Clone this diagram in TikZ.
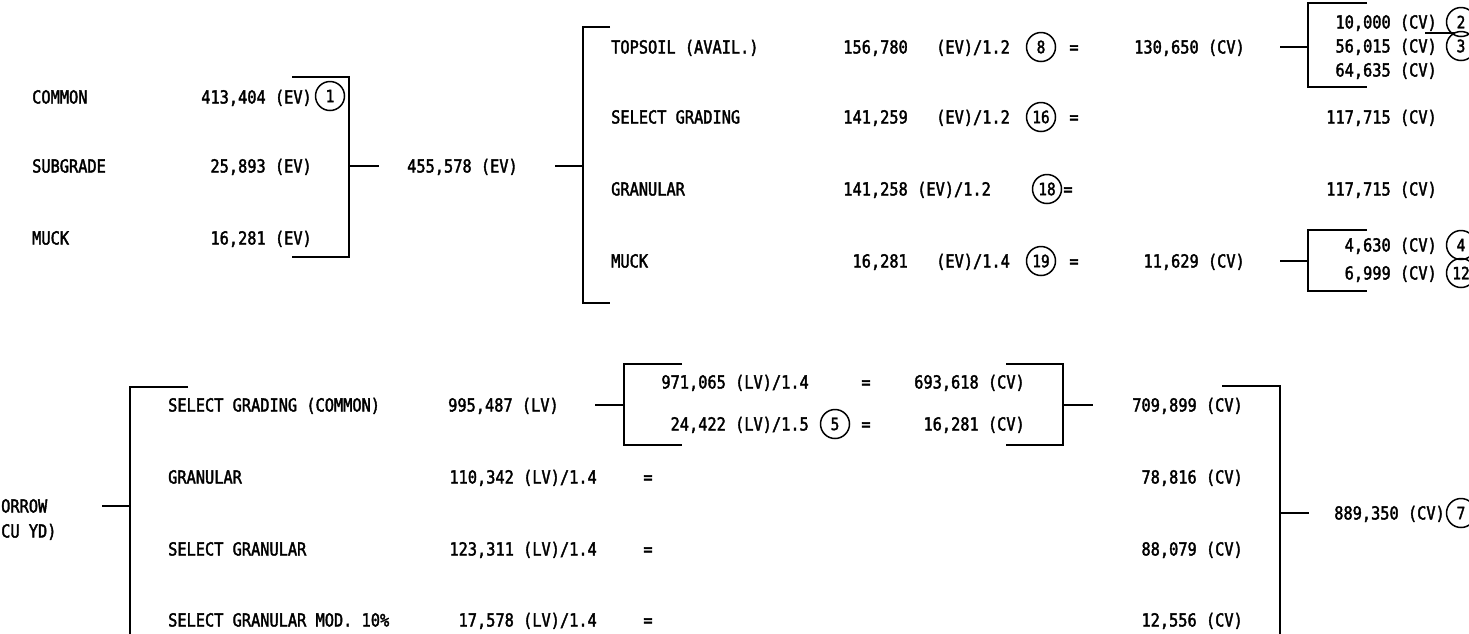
\documentclass[tikz,border=0pt]{standalone}
\usepackage{fontspec}
\setmainfont[FakeStretch=0.85,FakeBold=2]{DejaVu Sans Mono}
\begin{document}
\begin{tikzpicture}[x=1pt,y=-1pt,
  t/.style={inner sep=0pt, anchor=west, text height=13pt, text depth=0pt, font=\fontsize{18}{21}\selectfont},
  tr/.style={t, anchor=east},
  tc/.style={t, anchor=center},
  cn/.style={circle, draw, line width=1.5pt, minimum size=29pt, inner sep=0pt, font=\fontsize{17}{19}\selectfont},
  ln/.style={line width=1.8pt}]
\fill[white] (0,0) rectangle (1469,633);
\useasboundingbox (0,0) rectangle (1469,633);
\clip (0,0) rectangle (1469,633);

% ---------------- top-left group
\node[t] (common) at (32,97) {COMMON};
\node[t] (subgr) at (32,166) {SUBGRADE};
\node[t] (muckA) at (32,238) {MUCK};
\node[tr] (vA1) at (312,97) {413,404 (EV)};
\node[cn] (c1) at (330,96) {1};
\node[tr] (vA2) at (312,166) {25,893 (EV)};
\node[tr] (vA3) at (312,238) {16,281 (EV)};
\coordinate (bAt) at (292,77);
\coordinate (bAtr) at (349,77);
\coordinate (bAbr) at (349,257);
\coordinate (bAb) at (292,257);
\coordinate (bAm) at (349,166);
\coordinate (bAe) at (379,166);
\draw[ln] (bAt) -- (bAtr) -- (bAbr) -- (bAb);
\draw[ln] (bAm) -- (bAe);
\node[t] (sumA) at (407,166) {455,578 (EV)};

% ---------------- top-middle group
\coordinate (bBs) at (555,166);
\coordinate (bBm) at (583,166);
\coordinate (bBt) at (610,27);
\coordinate (bBtl) at (583,27);
\coordinate (bBbl) at (583,303);
\coordinate (bBb) at (610,303);
\draw[ln] (bBs) -- (bBm);
\draw[ln] (bBt) -- (bBtl) -- (bBbl) -- (bBb);

\node[t] (topsoil) at (611,47) {TOPSOIL (AVAIL.)};
\node[t] (selgr) at (611,117) {SELECT GRADING};
\node[t] (gran) at (611,189) {GRANULAR};
\node[t] (muckB) at (611,261) {MUCK};

\node[tr] (nB1) at (908,47) {156,780};
\node[tr] (nB2) at (908,117) {141,259};
\node[tr] (nB3) at (908,189) {141,258};
\node[tr] (nB4) at (908,261) {16,281};

\node[t] (fB1) at (936,47) {(EV)/1.2};
\node[t] (fB2) at (936,117) {(EV)/1.2};
\node[t] (fB3) at (917,189) {(EV)/1.2};
\node[t] (fB4) at (936,261) {(EV)/1.4};

\node[cn] (c8) at (1041,47) {8};
\node[cn] (c16) at (1041,117) {16};
\node[cn] (c18) at (1047,189) {18};
\node[cn] (c19) at (1041,261) {19};

\node[tc] (eB1) at (1074,47) {=};
\node[tc] (eB2) at (1074,117) {=};
\node[tc] (eB3) at (1068,189) {=};
\node[tc] (eB4) at (1074,261) {=};

\node[tr] (rB1) at (1245,47) {130,650 (CV)};
\node[tr] (rB4) at (1245,261) {11,629 (CV)};

% ---------------- top-right group
\coordinate (bCs) at (1280,47);
\coordinate (bCm) at (1308,47);
\coordinate (bCt) at (1367,3);
\coordinate (bCtl) at (1308,3);
\coordinate (bCbl) at (1308,87);
\coordinate (bCb) at (1367,87);
\draw[ln] (bCs) -- (bCm);
\draw[ln] (bCt) -- (bCtl) -- (bCbl) -- (bCb);
\node[tr] (rC1) at (1437,22) {10,000 (CV)};
\node[cn] (c2) at (1461,22) {2};
\node[tr] (rC2) at (1437,46) {56,015 (CV)};
\node[cn] (c3) at (1461,46) {3};
\node[tr] (rC3) at (1437,70) {64,635 (CV)};
\coordinate (lCa) at (1425,33);
\coordinate (lCb) at (1455,33);
\draw[ln] (lCa) -- (lCb);

\node[tr] (rC4) at (1437,117) {117,715 (CV)};
\node[tr] (rC5) at (1437,189) {117,715 (CV)};

\coordinate (bDs) at (1280,261);
\coordinate (bDm) at (1308,261);
\coordinate (bDt) at (1367,230);
\coordinate (bDtl) at (1308,230);
\coordinate (bDbl) at (1308,291);
\coordinate (bDb) at (1367,291);
\draw[ln] (bDs) -- (bDm);
\draw[ln] (bDt) -- (bDtl) -- (bDbl) -- (bDb);
\node[tr] (rD1) at (1437,245) {4,630 (CV)};
\node[cn] (c4) at (1461,245) {4};
\node[tr] (rD2) at (1437,273) {6,999 (CV)};
\node[cn] (c12) at (1461,273) {12};

% ---------------- bottom group
\node[t] (borrow) at (1,506) {ORROW};
\node[t] (cuyd) at (1,531) {CU YD)};
\coordinate (bEs) at (102,506);
\coordinate (bEm) at (130,506);
\coordinate (bEt) at (188,387);
\coordinate (bEtl) at (130,387);
\coordinate (bEbl) at (130,640);
\draw[ln] (bEs) -- (bEm);
\draw[ln] (bEt) -- (bEtl) -- (bEbl);

\node[t] (sgc) at (168,405) {SELECT GRADING (COMMON)};
\node[t] (granE) at (168,477) {GRANULAR};
\node[t] (sgran) at (168,549) {SELECT GRANULAR};
\node[t] (sgmod) at (168,620) {SELECT GRANULAR MOD. 10\%};

\node[t] (nE1) at (448,405) {995,487 (LV)};
\node[tr] (nE2) at (597,477) {110,342 (LV)/1.4};
\node[tr] (nE3) at (597,549) {123,311 (LV)/1.4};
\node[tr] (nE4) at (597,620) {17,578 (LV)/1.4};
\node[tc] (eE2) at (648,477) {=};
\node[tc] (eE3) at (648,549) {=};
\node[tc] (eE4) at (648,620) {=};

% inner box
\coordinate (bFs) at (595,405);
\coordinate (bFm) at (624,405);
\coordinate (bFt) at (682,364);
\coordinate (bFtl) at (624,364);
\coordinate (bFbl) at (624,445);
\coordinate (bFb) at (682,445);
\draw[ln] (bFs) -- (bFm);
\draw[ln] (bFt) -- (bFtl) -- (bFbl) -- (bFb);
\node[tr] (fF1) at (809,382) {971,065 (LV)/1.4};
\node[tr] (fF2) at (809,424) {24,422 (LV)/1.5};
\node[cn] (c5) at (835,424) {5};
\node[tc] (eF1) at (866,382) {=};
\node[tc] (eF2) at (866,424) {=};
\node[tr] (rF1) at (1025,382) {693,618 (CV)};
\node[tr] (rF2) at (1025,424) {16,281 (CV)};
\coordinate (bGt) at (1006,364);
\coordinate (bGtr) at (1063,364);
\coordinate (bGbr) at (1063,445);
\coordinate (bGb) at (1006,445);
\coordinate (bGm) at (1063,405);
\coordinate (bGe) at (1093,405);
\draw[ln] (bGt) -- (bGtr) -- (bGbr) -- (bGb);
\draw[ln] (bGm) -- (bGe);

\node[tr] (rE1) at (1243,405) {709,899 (CV)};
\node[tr] (rE2) at (1243,477) {78,816 (CV)};
\node[tr] (rE3) at (1243,549) {88,079 (CV)};
\node[tr] (rE4) at (1243,620) {12,556 (CV)};

\coordinate (bHt) at (1222,386);
\coordinate (bHtr) at (1280,386);
\coordinate (bHbr) at (1280,640);
\coordinate (bHm) at (1280,513);
\coordinate (bHe) at (1309,513);
\draw[ln] (bHt) -- (bHtr) -- (bHbr);
\draw[ln] (bHm) -- (bHe);
\node[tr] (tot) at (1445,513) {889,350 (CV)};
\node[cn] (c7) at (1461,513) {7};
\end{tikzpicture}
\end{document}
